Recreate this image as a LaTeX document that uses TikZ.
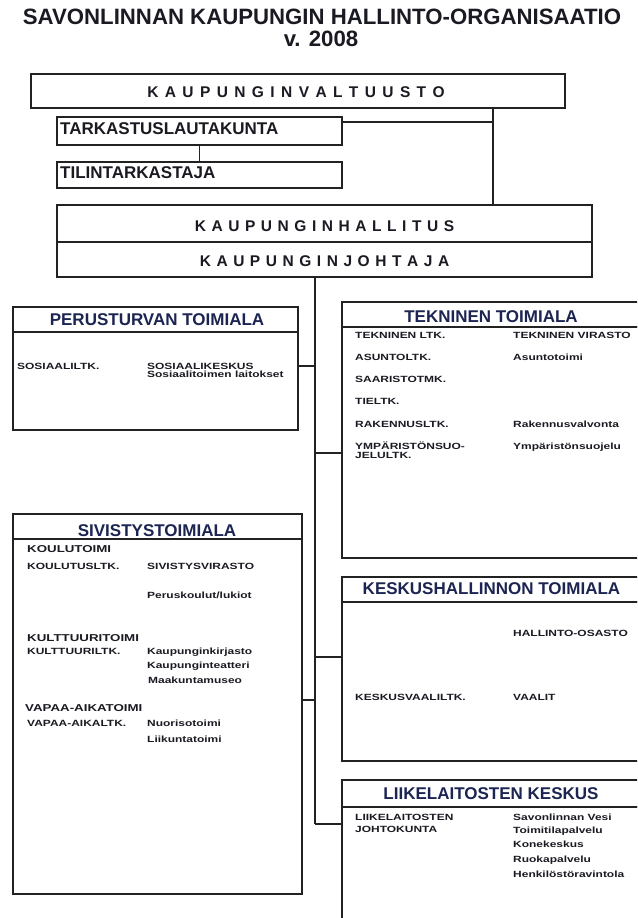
\documentclass[tikz,border=0pt]{standalone}
\usepackage{fontspec}
\setmainfont{Liberation Sans}
\newfontfamily\smallf{Liberation Sans}[FakeStretch=1.33]
\definecolor{ink}{HTML}{1A1A22}
\definecolor{navy}{HTML}{1C2452}
\definecolor{linec}{HTML}{222222}
\ExplSyntaxOn
\NewDocumentCommand\spaced{mm}
 {
  \bool_set_true:N \l_tmpa_bool
  \tl_map_inline:nn {#2}
   {
    \bool_if:NF \l_tmpa_bool { \hspace*{#1} }
    \bool_set_false:N \l_tmpa_bool
    ##1
   }
 }
\ExplSyntaxOff
\begin{document}
\begin{tikzpicture}[x=1pt,y=-1pt,
  orgbox/.style={draw=linec,line width=1.8pt,rectangle,inner sep=0pt,outer sep=0pt,anchor=north west,fill=white},
  capbase/.style={inner sep=0pt,text height=.72em,text depth=0pt},
  ttltext/.style={capbase,font=\bfseries\fontsize{22.2}{24}\selectfont,text=ink},
  spctext/.style={capbase,font=\bfseries\fontsize{15.5}{18}\selectfont,text=ink},
  bigtext/.style={capbase,anchor=west,font=\bfseries\fontsize{17}{20}\selectfont,text=ink},
  sectext/.style={capbase,font=\bfseries\fontsize{17}{20}\selectfont,text=navy},
  itemtext/.style={capbase,anchor=west,font=\smallf\bfseries\fontsize{9}{10}\selectfont,text=ink},
  subtext/.style={capbase,anchor=west,font=\smallf\bfseries\fontsize{10}{11}\selectfont,text=ink},
  connline/.style={draw=linec,line width=1.8pt}]
\useasboundingbox (0,0) rectangle (637,918);
\clip (0,0) rectangle (637,918);
\fill[white] (0,0) rectangle (637,918);

% title
\node[ttltext] (title) at (322,20.5) {SAVONLINNAN KAUPUNGIN HALLINTO-ORGANISAATIO};
\node[ttltext] (year) at (321,42.5) {v. 2008};

% top boxes
\node[orgbox,minimum width=534pt,minimum height=34pt] (valt) at (31,74) {};
\node[orgbox,minimum width=285pt,minimum height=28pt] (tark) at (57,117) {};
\node[orgbox,minimum width=285pt,minimum height=26pt] (tilin) at (57,162) {};
\node[orgbox,minimum width=535pt,minimum height=37pt] (hall) at (57,205) {};
\node[orgbox,minimum width=535pt,minimum height=35pt] (joht) at (57,242) {};

\node[spctext] (valtT) at (296,94) {\spaced{6.4pt}{KAUPUNGINVALTUUSTO}};
\node[bigtext] (tarkT) at (60,131) {TARKASTUSLAUTAKUNTA};
\node[bigtext] (tilinT) at (60,175) {TILINTARKASTAJA};
\node[spctext] (hallT) at (324.5,227.5) {\spaced{5.55pt}{KAUPUNGINHALLITUS}};
\node[spctext] (johtT) at (324.5,262.5) {\spaced{5.55pt}{KAUPUNGINJOHTAJA}};

% section boxes (header + body)
\node[orgbox,minimum width=285pt,minimum height=25pt] (peruH) at (13,307) {};
\node[orgbox,minimum width=285pt,minimum height=98pt] (peruB) at (13,332) {};
\node[orgbox,minimum width=310pt,minimum height=25pt] (teknH) at (342,302) {};
\node[orgbox,minimum width=310pt,minimum height=231pt] (teknB) at (342,327) {};
\node[orgbox,minimum width=289pt,minimum height=25pt] (siviH) at (13,514) {};
\node[orgbox,minimum width=289pt,minimum height=355pt] (siviB) at (13,539) {};
\node[orgbox,minimum width=310pt,minimum height=25pt] (keskH) at (342,577) {};
\node[orgbox,minimum width=310pt,minimum height=159pt] (keskB) at (342,602) {};
\node[orgbox,minimum width=310pt,minimum height=27pt] (liikH) at (342,780) {};
\node[orgbox,minimum width=310pt,minimum height=150pt] (liikB) at (342,807) {};

\node[sectext] (peruT) at (157,322) {PERUSTURVAN TOIMIALA};
\node[sectext] (teknT) at (491,319) {TEKNINEN TOIMIALA};
\node[sectext] (siviT) at (157,532.5) {SIVISTYSTOIMIALA};
\node[sectext] (keskT) at (491.5,591) {KESKUSHALLINNON TOIMIALA};
\node[sectext] (liikT) at (491,796) {LIIKELAITOSTEN KESKUS};

% Perusturva
\node[itemtext] (p1) at (17,366) {SOSIAALILTK.};
\node[itemtext] (p2) at (147,366) {SOSIAALIKESKUS};
\node[itemtext] (p3) at (147,374) {Sosiaalitoimen laitokset};

% Tekninen
\node[itemtext] (t1) at (355,335) {TEKNINEN LTK.};
\node[itemtext] (t2) at (355,357) {ASUNTOLTK.};
\node[itemtext] (t3) at (355,379) {SAARISTOTMK.};
\node[itemtext] (t4) at (355,401) {TIELTK.};
\node[itemtext] (t5) at (355,424) {RAKENNUSLTK.};
\node[itemtext] (t6) at (355,446) {YMPÄRISTÖNSUO-};
\node[itemtext] (t7) at (355,455) {JELULTK.};
\node[itemtext] (t8) at (513,335) {TEKNINEN VIRASTO};
\node[itemtext] (t9) at (513,357) {Asuntotoimi};
\node[itemtext] (t10) at (513,424) {Rakennusvalvonta};
\node[itemtext] (t11) at (513,446) {Ympäristönsuojelu};

% Sivistys
\node[subtext] (s1) at (27,549) {KOULUTOIMI};
\node[itemtext] (s2) at (27,566) {KOULUTUSLTK.};
\node[itemtext] (s3) at (147,566) {SIVISTYSVIRASTO};
\node[itemtext] (s4) at (147,595) {Peruskoulut/lukiot};
\node[subtext] (s5) at (27,638) {KULTTUURITOIMI};
\node[itemtext] (s6) at (27,651) {KULTTUURILTK.};
\node[itemtext] (s7) at (147,651) {Kaupunginkirjasto};
\node[itemtext] (s8) at (147,665) {Kaupunginteatteri};
\node[itemtext] (s9) at (148,680) {Maakuntamuseo};
\node[subtext] (s10) at (25,708) {VAPAA-AIKATOIMI};
\node[itemtext] (s11) at (27,723) {VAPAA-AIKALTK.};
\node[itemtext] (s12) at (147,723) {Nuorisotoimi};
\node[itemtext] (s13) at (147,739) {Liikuntatoimi};

% Keskushallinto
\node[itemtext] (k1) at (513,633) {HALLINTO-OSASTO};
\node[itemtext] (k2) at (355,697) {KESKUSVAALILTK.};
\node[itemtext] (k3) at (513,697) {VAALIT};

% Liikelaitokset
\node[itemtext] (l1) at (355,817) {LIIKELAITOSTEN};
\node[itemtext] (l2) at (355,829) {JOHTOKUNTA};
\node[itemtext] (l3) at (513,817) {Savonlinnan Vesi};
\node[itemtext] (l4) at (513,830) {Toimitilapalvelu};
\node[itemtext] (l5) at (513,844) {Konekeskus};
\node[itemtext] (l6) at (513,859) {Ruokapalvelu};
\node[itemtext] (l7) at (513,874) {Henkilöstöravintola};

% connectors
\coordinate (vx) at (493,0);
\coordinate (jx) at (315,0);
\coordinate (b1) at (315,366);
\coordinate (b2) at (315,453);
\coordinate (b3) at (315,657);
\coordinate (b4) at (315,700);
\coordinate (b5) at (315,824);
\coordinate (tk) at (342,122);

\draw[connline] (vx |- valt.south) -- (vx |- hall.north);
\draw[connline] (tk) -- (vx |- tk);
\draw[connline] (tark.south) -- (tilin.north);
\draw[connline] (jx |- joht.south) -- (b5);
\draw[connline] (b1) -- (b1 -| peruB.east);
\draw[connline] (b2) -- (b2 -| teknB.west);
\draw[connline] (b3) -- (b3 -| keskB.west);
\draw[connline] (b4) -- (b4 -| siviB.east);
\draw[connline] (b5) -- (b5 -| liikB.west);
\end{tikzpicture}
\end{document}
